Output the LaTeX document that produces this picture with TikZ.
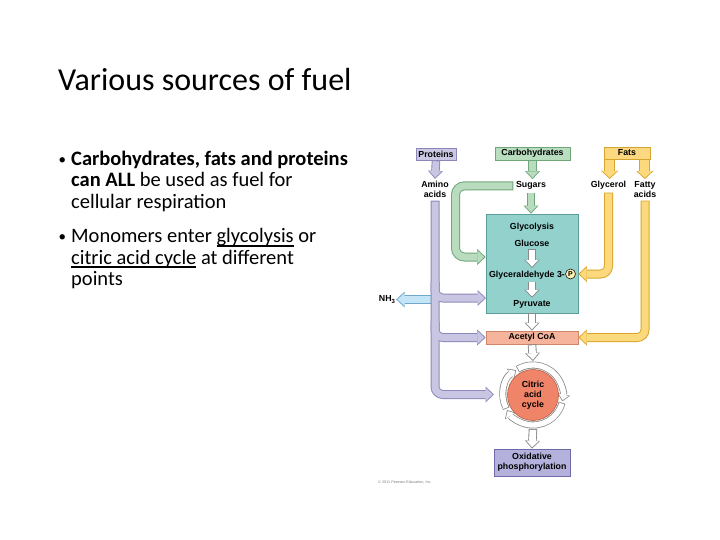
\documentclass[tikz,border=0pt]{standalone}
\usepackage{fontspec}
\setmainfont{Carlito}
\newfontfamily\dfont{Liberation Sans}
\usetikzlibrary{arrows.meta,calc}
\definecolor{protfill}{HTML}{CBC8E4}\definecolor{protdraw}{HTML}{8B87BA}
\definecolor{carbfill}{HTML}{B9DDBF}\definecolor{carbdraw}{HTML}{6FA77B}
\definecolor{fatfill}{HTML}{FCD880}\definecolor{fatdraw}{HTML}{D6A431}
\definecolor{glyfill}{HTML}{93D1CD}\definecolor{glydraw}{HTML}{5B9F9B}
\definecolor{acefill}{HTML}{F5B49B}\definecolor{acedraw}{HTML}{CF8569}
\definecolor{citfill}{HTML}{F08469}\definecolor{citdraw}{HTML}{B45C44}
\definecolor{oxfill}{HTML}{B4B2DC}\definecolor{oxdraw}{HTML}{6F6BA8}
\definecolor{purfill}{HTML}{C9C6E3}\definecolor{purdraw}{HTML}{8C88BA}
\definecolor{grnfill}{HTML}{B8DCBD}\definecolor{grndraw}{HTML}{6EA77B}
\definecolor{yelfill}{HTML}{FCD97C}\definecolor{yeldraw}{HTML}{D9A62C}
\definecolor{nhfill}{HTML}{C4E5F5}\definecolor{nhdraw}{HTML}{6FA8CC}
\definecolor{whdraw}{HTML}{8A8A8A}
\definecolor{pfill}{HTML}{FDEFB0}
\newsavebox\ulbox
\newcommand\myul[1]{\sbox\ulbox{#1}\rlap{\rule[-3.8pt]{\wd\ulbox}{1.9pt}}\usebox\ulbox}
\begin{document}
\begin{tikzpicture}[x=1pt,y=-1pt,
  lbl/.style={font=\dfont\bfseries\fontsize{8.8}{10}\selectfont, inner sep=2.5pt, align=center},
  bx/.style={draw, line width=0.7pt, inner sep=0pt, font=\dfont\bfseries\fontsize{8.8}{10}\selectfont, align=center},
  slide/.style={anchor=base west, inner sep=0pt, font=\fontsize{20.5}{24}\selectfont},
  bul/.style={anchor=base west, inner sep=0pt, font=\fontsize{15}{18}\selectfont},
  bo/.style={line width=9pt, rounded corners=8pt, -{Triangle[width=16pt,length=8.5pt,line width=0pt]}},
  bi/.style={line width=7pt, rounded corners=8pt, shorten >=1.4pt, shorten <=0.9pt, -{Triangle[width=13pt,length=6.8pt,line width=0pt]}},
  so/.style={line width=8.5pt, -{Triangle[width=15pt,length=8pt,line width=0pt]}},
  si/.style={line width=6.7pt, shorten >=1.3pt, shorten <=0.9pt, -{Triangle[width=12.2pt,length=6.5pt,line width=0pt]}},
  fo/.style={line width=11pt, -{Triangle[width=17pt,length=8pt,line width=0pt]}},
  fi/.style={line width=9.2pt, shorten >=1.3pt, shorten <=0.9pt, -{Triangle[width=14.2pt,length=6.5pt,line width=0pt]}},
  ro/.style={line width=7pt, -{Triangle[width=13pt,length=7pt,line width=0pt]}},
  ri/.style={line width=5.4pt, shorten >=1.2pt, shorten <=0.8pt, -{Triangle[width=10.3pt,length=5.4pt,line width=0pt]}},
]
\useasboundingbox[fill=white] (0,0) rectangle (720,540);

% ---- slide text ----
\node[anchor=base west, inner sep=0pt, font=\fontsize{32}{38}\selectfont] (title) at (58,91) {Various sources of fuel};
\node[bul] (b1) at (58.5,164.5) {•};
\node[slide] (l1) at (71,166) {\bfseries Carbohydrates, fats and proteins};
\node[slide] (l2) at (71,187) {\textbf{can ALL} be used as fuel for};
\node[slide] (l3) at (71,209) {cellular respiration};
\node[bul] (b2) at (58.5,241.5) {•};
\node[slide] (l4) at (71,243) {Monomers enter \myul{glycolysis} or};
\node[slide] (l5) at (71,264) {\myul{citric acid cycle} at different};
\node[slide] (l6) at (71,285) {points};

% ---- boxes ----
\node[bx, fill=protfill, draw=protdraw, minimum width=40, minimum height=12] (proteins) at (436,154) {Proteins};
\node[bx, fill=carbfill, draw=carbdraw, minimum width=75, minimum height=13] (carbs) at (532.5,153.5) {Carbohydrates};
\node[bx, fill=fatfill, draw=fatdraw, minimum width=46, minimum height=12] (fats) at (627,153) {Fats};
\node[bx, fill=glyfill, draw=glydraw, minimum width=92, minimum height=99] (glyco) at (532,263.5) {};
\node[bx, fill=acefill, draw=acedraw, minimum width=92, minimum height=13] (acetyl) at (532,337.5) {Acetyl CoA};
\node[bx, fill=oxfill, draw=oxdraw, minimum width=76, minimum height=27] (ox) at (532,462.5) {Oxidative\\phosphorylation};

% ---- labels ----
\node[lbl] (amino) at (435,189.8) {Amino\\acids};
\node[lbl, anchor=base] (sugars) at (531,188) {Sugars};
\node[lbl, anchor=base] (glycerol) at (608.5,188) {Glycerol};
\node[lbl] (fatty) at (645,189.8) {Fatty\\acids};
\node[lbl, anchor=base] (glytitle) at (532,229.5) {Glycolysis};
\node[lbl, anchor=base] (glucose) at (532,246.5) {Glucose};
\node[lbl, anchor=base] (g3p) at (527,277) {Glyceraldehyde 3-};
\node[circle, draw=black, line width=0.5pt, fill=pfill, inner sep=0pt, minimum size=10, font=\dfont\bfseries\fontsize{7}{7}\selectfont] (pc) at (570.5,274) {P};
\node[lbl, anchor=base] (pyr) at (532,306.5) {Pyruvate};
\node[lbl, inner sep=1pt] (nh3) at (387,299.5) {NH\raisebox{-2pt}{\fontsize{6}{6}\selectfont 3}};
\node[anchor=west, inner sep=0pt, text=gray, font=\dfont\fontsize{3.8}{4}\selectfont] (copy) at (378,482) {\textcopyright{} 2011 Pearson Education, Inc.};

% ---- NH3 arrow ----
\draw[bo, nhdraw] (amino.south |- nh3.east) -- (nh3.east);
\draw[bi, nhfill] (amino.south |- nh3.east) -- (nh3.east);

% ---- protein (purple) arrows ----
\coordinate (cyin) at (494,394.5);
\coordinate (pyin) at (486,298);
\coordinate (pys) at ($(amino.south |- pyin)+(0,-16)$);
\coordinate (acs) at ($(amino.south |- acetyl.west)+(0,-16)$);
\draw[so, purdraw] (proteins.south) -- (amino.north);
\draw[si, purfill] (proteins.south) -- (amino.north);
\draw[bo, purdraw] (amino.south) |- (cyin);
\draw[bo, purdraw] (pys) |- (pyin);
\draw[bo, purdraw] (acs) |- (acetyl.west);
\draw[bi, purfill] (amino.south) |- (cyin);
\draw[bi, purfill, shorten <=0pt] (pys) |- (pyin);
\draw[bi, purfill, shorten <=0pt] (acs) |- (acetyl.west);

% ---- carbohydrate (green) arrows ----
\coordinate (gcorner) at (455.5,257);
\draw[so, grndraw] (carbs.south) -- (carbs.south |- sugars.north);
\draw[si, grnfill] (carbs.south) -- (carbs.south |- sugars.north);
\draw[so, grndraw] (sugars.south) -- (sugars.south |- glyco.north);
\draw[si, grnfill] (sugars.south) -- (sugars.south |- glyco.north);
\draw[bo, grndraw, rounded corners=9pt] (sugars.west) -| (gcorner) -- (gcorner -| glyco.west);
\draw[bi, grnfill, rounded corners=9pt] (sugars.west) -| (gcorner) -- (gcorner -| glyco.west);

% ---- fat (yellow) arrows ----
\coordinate (fl) at ($(fats.south west)+(6,0)$);
\coordinate (fr) at ($(fats.south east)+(-5.5,0)$);
\draw[fo, yeldraw] (fl) -- (fl |- glycerol.north);
\draw[fo, yeldraw] (fr) -- (fr |- fatty.north);
\draw[fi, yelfill] (fl) -- (fl |- glycerol.north);
\draw[fi, yelfill] (fr) -- (fr |- fatty.north);
\draw[bo, yeldraw] (glycerol.south) |- (pc.east -| glyco.east);
\draw[bi, yelfill] (glycerol.south) |- (pc.east -| glyco.east);
\draw[bo, yeldraw] (fatty.south) |- (acetyl.east);
\draw[bi, yelfill] (fatty.south) |- (acetyl.east);

% ---- white arrows ----
\coordinate (cc) at (533,395);
\coordinate (ringtop) at ($(cc)+(0,-34)$);
\coordinate (ringbot) at ($(cc)+(0,34)$);
\draw[so, whdraw] (glucose.south) -- (glucose.south |- g3p.north);
\draw[si, white] (glucose.south) -- (glucose.south |- g3p.north);
\draw[so, whdraw] (glucose.south |- g3p.south) -- (pyr.north);
\draw[si, white] (glucose.south |- g3p.south) -- (pyr.north);
\draw[so, whdraw] (glyco.south) -- (acetyl.north);
\draw[si, white] (glyco.south) -- (acetyl.north);
\draw[so, whdraw] (acetyl.south) -- (ringtop);
\draw[si, white] (acetyl.south) -- (ringtop);
\draw[so, whdraw] (ringbot) -- (ox.north);
\draw[si, white] (ringbot) -- (ox.north);

% ---- citric acid cycle ring ----
\draw[ro, whdraw] (cc) ++(153:30) arc[start angle=153, end angle=236, radius=30];
\draw[ro, whdraw] (cc) ++(239:30) arc[start angle=239, end angle=372, radius=30];
\draw[ro, whdraw] (cc) ++(15:30) arc[start angle=15, end angle=150, radius=30];
\draw[ri, white] (cc) ++(153:30) arc[start angle=153, end angle=236, radius=30];
\draw[ri, white] (cc) ++(239:30) arc[start angle=239, end angle=372, radius=30];
\draw[ri, white] (cc) ++(15:30) arc[start angle=15, end angle=150, radius=30];
\node[circle, draw=citdraw, line width=0.6pt, fill=citfill, minimum size=51, inner sep=0pt, font=\dfont\bfseries\fontsize{8.8}{10}\selectfont, align=center] (cycle) at (cc) {Citric\\acid\\cycle};
\end{tikzpicture}
\end{document}
